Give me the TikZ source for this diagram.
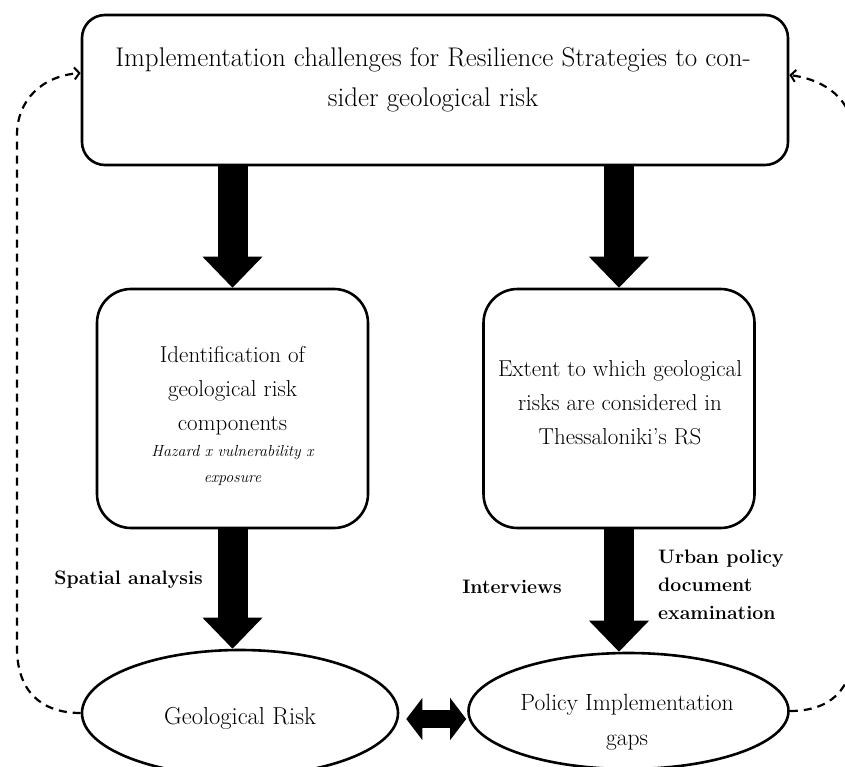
\documentclass[tikz,border=0pt]{standalone}
\usetikzlibrary{arrows.meta,shapes.geometric}
\begin{document}
\begin{tikzpicture}[x=1pt,y=-1pt,
  boxline/.style={draw,line width=2.6pt},
  bigbox/.style={boxline,rounded corners=23pt,inner sep=0pt},
  midbox/.style={boxline,rounded corners=34pt,minimum width=271pt,minimum height=239pt,inner sep=0pt},
  oval/.style={boxline,ellipse,inner sep=0pt},
  txt/.style={inner sep=0pt,align=center,font=\fontsize{23}{34}\selectfont},
  itxt/.style={inner sep=0pt,align=center,font=\fontsize{16}{26}\selectfont\itshape},
  otxt/.style={inner sep=0pt,align=center,font=\fontsize{23.5}{35}\selectfont},
  fat/.style={line width=30pt,-{Triangle[length=31pt,width=60pt,line width=0pt]}},
  dbl/.style={line width=18pt,{Triangle[length=16pt,width=42pt,line width=0pt]}-{Triangle[length=16pt,width=42pt,line width=0pt]}},
  dsh/.style={line width=2.2pt,dash pattern=on 8pt off 6pt},
  barb/.style={-{Straight Barb[length=5pt,width=12pt,line width=2pt]}},
  lbl/.style={font=\fontsize{19.5}{28}\selectfont\bfseries,inner sep=0pt,align=left}]
\useasboundingbox (0,0) rectangle (845,767);
\clip (0,0) rectangle (845,767);

% top box
\node[bigbox,minimum width=706pt,minimum height=150pt] (top) at (435,90) {};
\node[font=\fontsize{27}{40}\selectfont,align=center,inner sep=0pt] (toptext) at (433,80)
  {Implementation challenges for Resilience Strategies to con-\\sider geological risk};

% middle boxes
\node[midbox] (lbox) at (232.5,408.5) {};
\node[txt] (ltext) at (232.5,391) {Identification of\\geological risk\\components};
\node[itxt] (litext) at (232.5,465) {Hazard x vulnerability x\\exposure};
\node[midbox] (rbox) at (619,408.5) {};
\node[txt] (rtext) at (620,403) {Extent to which geological\\risks are considered in\\Thessaloniki’s RS};

% ellipses
\node[oval,minimum width=316pt,minimum height=126pt] (gr) at (240,713) {};
\node[otxt,font=\fontsize{24.5}{35}\selectfont] (grtext) at (240,718) {Geological Risk};
\node[oval,minimum width=320pt,minimum height=116pt] (pg) at (628.5,711) {};
\node[otxt] (pgtext) at (627,722) {Policy Implementation\\gaps};

% fat arrows
\draw[fat] (lbox.north |- top.south) -- (lbox.north);
\draw[fat] (rbox.north |- top.south) -- (rbox.north);
\draw[fat] (lbox.south) -- (lbox.south |- gr.north);
\draw[fat] (rbox.south) -- (rbox.south |- pg.north);
\draw[dbl,shorten <=7pt,shorten >=1pt] ([yshift=-6pt]gr.east) -- ([yshift=-8pt]pg.west);

% labels
\node[lbl,anchor=east] (spatial) at (203,580) {Spatial analysis};
\node[lbl] (interv) at (512,587) {Interviews};
\node[lbl,anchor=west] (urban) at (658,585) {Urban policy\\document\\examination};

% dashed feedback loops
\draw[dsh,barb] (gr.west) .. controls (40,713) and (17,690) .. (17,648)
  -- (17,135) .. controls (17,100) and (42,76) .. ([yshift=17pt]top.west);
\draw[dsh,barb] (pg.east) .. controls (830,711) and (853,690) .. (853,648)
  -- (853,135) .. controls (853,100) and (826,80) .. ([yshift=15pt]top.east);
\end{tikzpicture}
\end{document}
